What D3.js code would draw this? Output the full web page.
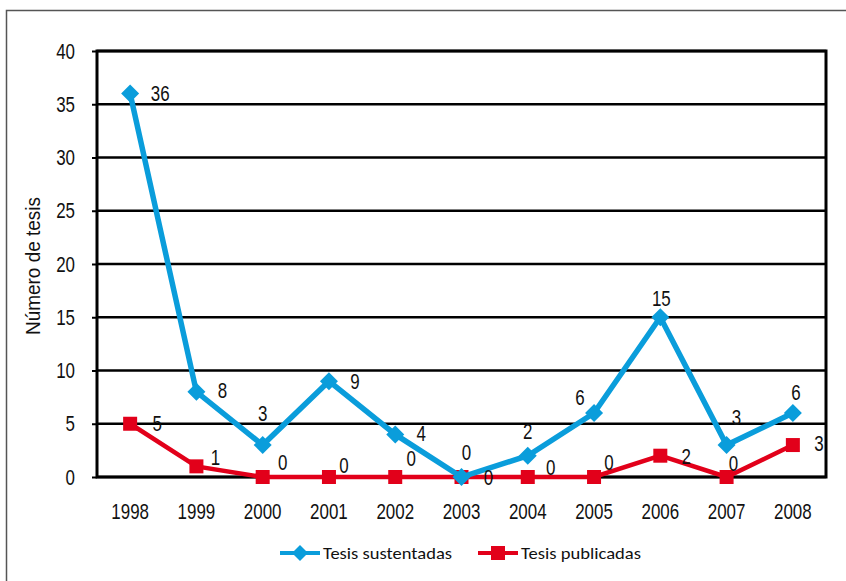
<!DOCTYPE html>
<html><head><meta charset="utf-8">
<script src="https://cdn.jsdelivr.net/npm/d3@7"></script>
<style>
body{margin:0;background:#fff;}
svg text{font-family:"Liberation Sans",Arial,sans-serif;}
</style></head>
<body><svg id="c" width="846" height="581"></svg>
<script>
const years = ["1998","1999","2000","2001","2002","2003","2004","2005","2006","2007","2008"];
const sustentadas = [36, 8, 3, 9, 4, 0, 2, 6, 15, 3, 6];
const publicadas = [5, 1, 0, 0, 0, 0, 0, 0, 2, 0, 3];
const yTicks = [0, 5, 10, 15, 20, 25, 30, 35, 40];
const seriesNames = ["Tesis sustentadas", "Tesis publicadas"];
// label placement offsets (layout only)
const labelOffS = [[30,0],[26,-2],[0,-32],[26,0],[26,-1],[5,-25],[0,-24],[-14,-16],[1,-19],[10,-28],[3,-21]];
const labelOffP = [[27,0],[19,-9],[20,-15],[15,-12],[16,-19],[27,0],[23,-10],[15,-15],[26,1],[7,-14],[26,-2]];

const svg = d3.select("#c");
const m = {l:97, t:51, r:826, b:477};
const x = d3.scaleBand().domain(years).range([m.l, m.r]);
const y = d3.scaleLinear().domain([0,40]).range([m.b, m.t]);
const cx = d => x(d) + x.bandwidth()/2;
const blue = "#0a9ddb", red = "#e2001a";
const FS = 22;
const narrow = sel => sel.each(function(){
  const len = this.getComputedTextLength();
  d3.select(this).attr("textLength", len*0.77).attr("lengthAdjust","spacingAndGlyphs");
});

// outer frame (left + top)
svg.append("path").attr("d","M6.5,581 L6.5,10.5 L846,10.5").attr("fill","none").attr("stroke","#555").attr("stroke-width",1.5);

// gridlines
svg.append("g").selectAll("line").data(yTicks).join("line")
  .attr("x1", m.l).attr("x2", m.r).attr("y1", d=>y(d)).attr("y2", d=>y(d))
  .attr("stroke","#000").attr("stroke-width",2.5);
// plot border
svg.append("rect").attr("x",m.l).attr("y",m.t).attr("width",m.r-m.l).attr("height",m.b-m.t)
  .attr("fill","none").attr("stroke","#000").attr("stroke-width",3);

// y axis
const ya = svg.append("g").attr("transform",`translate(${m.l},0)`)
  .call(d3.axisLeft(y).tickValues(yTicks).tickSize(5).tickPadding(17));
ya.select(".domain").remove();
ya.selectAll(".tick line").attr("stroke","#000").attr("stroke-width",2);
ya.selectAll(".tick text").attr("font-size",FS).attr("fill","#111")
  .style("font-family",'"Liberation Sans",Arial,sans-serif').call(narrow);

// x axis
const xa = svg.append("g").attr("transform",`translate(0,${m.b})`)
  .call(d3.axisBottom(x).tickSize(0).tickPadding(26));
xa.select(".domain").remove();
xa.selectAll(".tick text").attr("font-size",FS).attr("fill","#111")
  .style("font-family",'"Liberation Sans",Arial,sans-serif').call(narrow);

// y title
svg.append("text").attr("transform","translate(40,266) rotate(-90)").attr("text-anchor","middle")
  .attr("font-size",21).attr("fill","#111").attr("textLength",138).attr("lengthAdjust","spacingAndGlyphs")
  .text("Número de tesis");

const line = d3.line().x((d,i)=>cx(years[i])).y(d=>y(d));

// publicadas
svg.append("path").datum(publicadas).attr("d",line).attr("fill","none").attr("stroke",red).attr("stroke-width",4.5);
svg.append("g").selectAll("rect").data(publicadas).join("rect")
  .attr("x",(d,i)=>cx(years[i])-7).attr("y",d=>y(d)-7).attr("width",14).attr("height",14).attr("fill",red);

// sustentadas
svg.append("path").datum(sustentadas).attr("d",line).attr("fill","none").attr("stroke",blue).attr("stroke-width",5.5);
const diamond = (px,py,r)=>`M${px},${py-r}L${px+r},${py}L${px},${py+r}L${px-r},${py}Z`;
svg.append("g").selectAll("path").data(sustentadas).join("path")
  .attr("d",(d,i)=>diamond(cx(years[i]), y(d), 9)).attr("fill",blue);

// data labels
svg.append("g").selectAll("text").data(sustentadas).join("text")
  .attr("x",(d,i)=>cx(years[i])+labelOffS[i][0]).attr("y",(d,i)=>y(d)+labelOffS[i][1])
  .attr("text-anchor","middle").attr("dy","0.35em").attr("font-size",FS).attr("fill","#111").text(d=>d).call(narrow);
svg.append("g").selectAll("text").data(publicadas).join("text")
  .attr("x",(d,i)=>cx(years[i])+labelOffP[i][0]).attr("y",(d,i)=>y(d)+labelOffP[i][1])
  .attr("text-anchor","middle").attr("dy","0.35em").attr("font-size",FS).attr("fill","#111").text(d=>d).call(narrow);

// legend
const lg = svg.append("g");
const legY = 553;
const legItems = [{name:seriesNames[0], color:blue, x:280, shape:"d", w:129},{name:seriesNames[1], color:red, x:478, shape:"s", w:120}];
legItems.forEach(it=>{
  lg.append("line").attr("x1",it.x).attr("x2",it.x+40).attr("y1",legY).attr("y2",legY)
    .attr("stroke",it.color).attr("stroke-width",4);
  if(it.shape==="d") lg.append("path").attr("d",diamond(it.x+20,legY,8)).attr("fill",it.color);
  else lg.append("rect").attr("x",it.x+13).attr("y",legY-7).attr("width",14).attr("height",14).attr("fill",it.color);
  lg.append("text").attr("x",it.x+43).attr("y",legY).attr("dy","0.35em").attr("font-size",16.5)
    .attr("fill","#111").attr("textLength",it.w).attr("lengthAdjust","spacingAndGlyphs")
    .style("font-family",'Carlito,"Open Sans","Noto Sans",sans-serif').text(it.name);
});
</script></body></html>
